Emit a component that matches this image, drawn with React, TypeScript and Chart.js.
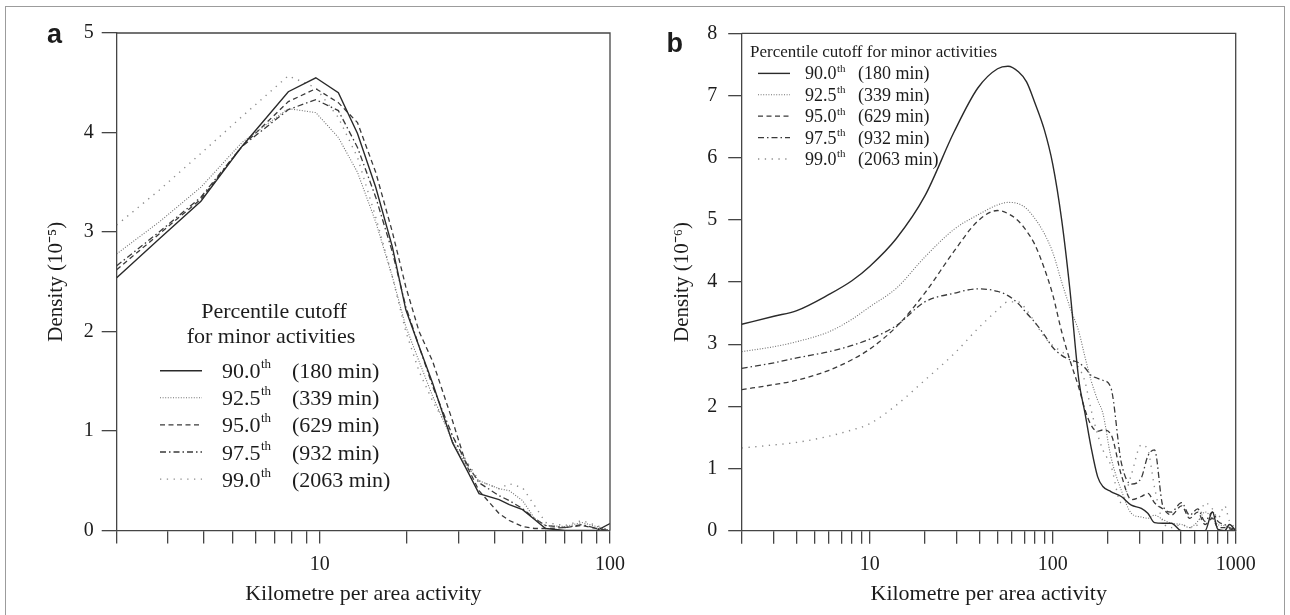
import React, { useEffect, useRef } from 'react';
import { Chart, registerables } from 'chart.js';

Chart.register(...registerables);

// ---------------- data ----------------
const SERIES_NAMES = ['90.0', '92.5', '95.0', '97.5', '99.0'];
const SERIES_NOTES = ['(180 min)', '(339 min)', '(629 min)', '(932 min)', '(2063 min)'];
const SUPERSCRIPT = 'th';
const LEGEND_TITLE_A = ['Percentile cutoff', 'for minor activities'];
const LEGEND_TITLE_B = ['Percentile cutoff for minor activities'];
const X_TITLE = 'Kilometre per area activity';
const Y_TITLE_A = 'Density (10⁻⁵)';
const Y_TITLE_B = 'Density (10⁻⁶)';
const LETTER_A = 'a';
const LETTER_B = 'b';

// panel a
const X_TICKS_A = [2, 3, 4, 5, 6, 7, 8, 9, 10, 20, 30, 40, 50, 60, 70, 80, 90, 100];
const X_LABELS_A = [10, 100];
const Y_MAX_A = 5;
const KM_A = [2, 2.8, 3.9, 5.4, 7.8, 9.7, 11.6, 13.5, 15.6, 17.8, 19.8, 22, 24.5, 28.7, 32, 35.4, 41.5, 45, 50, 55, 60, 70, 80, 90, 100];
const A_900 = [2.54, 2.93, 3.31, 3.86, 4.41, 4.55, 4.40, 3.99, 3.45, 2.85, 2.22, 1.85, 1.48, 0.88, 0.62, 0.37, 0.31, 0.26, 0.21, 0.11, 0.02, 0, 0, 0, 0.07];
const A_925 = [2.78, 3.10, 3.45, 3.90, 4.24, 4.20, 3.95, 3.60, 3.10, 2.55, 2.05, 1.70, 1.35, 0.90, 0.65, 0.50, 0.42, 0.40, 0.30, 0.12, 0.05, 0.04, 0.08, 0.04, 0.0];
const A_950 = [2.62, 2.98, 3.33, 3.86, 4.31, 4.44, 4.30, 4.10, 3.60, 3.00, 2.45, 2.00, 1.70, 1.10, 0.66, 0.40, 0.17, 0.10, 0.04, 0.02, 0.02, 0.03, 0.05, 0.02, 0.0];
const A_975 = [2.66, 3.00, 3.35, 3.86, 4.23, 4.33, 4.22, 3.85, 3.35, 2.80, 2.25, 1.85, 1.45, 0.95, 0.68, 0.48, 0.35, 0.30, 0.22, 0.12, 0.05, 0.03, 0.06, 0.02, 0.0];
const A_990 = [3.07, 3.42, 3.79, 4.16, 4.57, 4.45, 4.15, 3.75, 3.15, 2.55, 2.00, 1.60, 1.30, 0.95, 0.70, 0.50, 0.42, 0.47, 0.43, 0.25, 0.08, 0.05, 0.10, 0.05, 0.0];

// panel b
const X_TICKS_B = [2, 3, 4, 5, 6, 7, 8, 9, 10, 20, 30, 40, 50, 60, 70, 80, 90, 100, 200, 300, 400, 500, 600, 700, 800, 900, 1000];
const X_LABELS_B = [10, 100, 1000];
const Y_MAX_B = 8;
const KM_B = [2, 3, 4, 6, 8, 10, 14, 20, 29, 39, 50, 57, 65, 72, 80, 90, 100, 112, 124, 139, 150, 162, 176, 188, 208, 237, 269, 305, 331, 360, 400, 445, 506, 560, 620, 680, 746, 800, 870, 925, 1000];
const B_900 = [3.32, 3.45, 3.54, 3.80, 4.02, 4.25, 4.70, 5.38, 6.42, 7.12, 7.43, 7.47, 7.38, 7.22, 6.88, 6.45, 5.90, 5.00, 3.90, 2.42, 1.90, 1.35, 0.87, 0.71, 0.63, 0.55, 0.41, 0.36, 0.28, 0.13, 0.12, 0.12, 0.0, 0.0, 0.0, 0.0, 0.30, 0.02, 0.0, 0.10, 0.0];
const B_925 = [2.88, 2.96, 3.04, 3.20, 3.40, 3.60, 3.90, 4.40, 4.85, 5.08, 5.24, 5.28, 5.26, 5.18, 5.02, 4.78, 4.48, 4.00, 3.60, 3.20, 2.80, 2.42, 2.10, 1.89, 1.19, 0.65, 0.28, 0.22, 0.20, 0.25, 0.18, 0.12, 0.10, 0.05, 0.15, 0.30, 0.20, 0.10, 0.08, 0.05, 0.0];
const B_950 = [2.27, 2.35, 2.42, 2.58, 2.75, 2.92, 3.28, 3.82, 4.50, 4.98, 5.15, 5.10, 4.98, 4.82, 4.60, 4.22, 3.80, 3.20, 2.75, 2.30, 1.95, 1.70, 1.60, 1.62, 1.55, 0.90, 0.50, 0.55, 0.60, 0.45, 0.35, 0.25, 0.40, 0.20, 0.30, 0.10, 0.20, 0.05, 0.05, 0.03, 0.0];
const B_975 = [2.61, 2.70, 2.78, 2.88, 2.98, 3.08, 3.30, 3.68, 3.82, 3.89, 3.85, 3.78, 3.65, 3.50, 3.35, 3.15, 2.95, 2.82, 2.75, 2.70, 2.62, 2.50, 2.45, 2.42, 2.30, 1.10, 0.75, 0.85, 1.20, 1.30, 0.40, 0.30, 0.45, 0.25, 0.35, 0.15, 0.30, 0.15, 0.10, 0.05, 0.02];
const B_990 = [1.33, 1.38, 1.42, 1.52, 1.62, 1.72, 2.02, 2.42, 2.85, 3.25, 3.55, 3.68, 3.68, 3.55, 3.35, 3.12, 2.98, 2.88, 2.78, 2.62, 2.40, 1.95, 1.55, 1.30, 1.05, 0.45, 0.90, 1.38, 1.30, 0.70, 0.15, 0.05, 0.10, 0.05, 0.10, 0.45, 0.35, 0.20, 0.40, 0.15, 0.05];

// ---------------- styles ----------------
const SERIF = '"Liberation Serif", "Times New Roman", serif';
const SANS = '"Liberation Sans", Arial, sans-serif';
const TEXT = '#1c1c1c';
const AXIS = '#454545';
const H = 615;

const LINE_STYLES = [
  { color: '#2a2a2a', width: 1.4, dash: [] as number[] },
  { color: '#707070', width: 1.1, dash: [1, 1.6] },
  { color: '#3a3a3a', width: 1.3, dash: [5, 3.5] },
  { color: '#3a3a3a', width: 1.3, dash: [6, 3, 1.5, 3] },
  { color: '#8c8c8c', width: 1.4, dash: [1.3, 5.5] },
];

type LegendSpec = {
  titles: string[];
  titleAlign: CanvasTextAlign;
  titleX: number[];
  titleY: number[];
  titleSize: number;
  sample0: number;
  sample1: number;
  row0: number;
  rowStep: number;
  rowSize: number;
  numX: number;
  noteX: number;
  supSize: number;
  supRise: number;
  baseShift: number;
};

type PanelSpec = {
  xs: number[];
  ys: number[][];
  xMin: number;
  xMax: number;
  xTicks: number[];
  xLabels: number[];
  yMax: number;
  yTitle: string;
  letter: string;
  letterX: number;
  letterY: number;
  canvasLeft: number;
  canvasWidth: number;
  plot: { left: number; right: number; top: number; bottom: number };
  yTickLen: number;
  yTickPad: number;
  yTitlePad: number;
  smooth: boolean;
  legend: LegendSpec;
};

const PANEL_A: PanelSpec = {
  xs: KM_A,
  ys: [A_900, A_925, A_950, A_975, A_990],
  xMin: 2,
  xMax: 100,
  xTicks: X_TICKS_A,
  xLabels: X_LABELS_A,
  yMax: Y_MAX_A,
  yTitle: Y_TITLE_A,
  letter: LETTER_A,
  letterX: 47,
  letterY: 42.7,
  canvasLeft: 0,
  canvasWidth: 640,
  plot: { left: 116.7, right: 610, top: 33, bottom: 530.5 },
  yTickLen: 15,
  yTickPad: 8,
  yTitlePad: 44,
  smooth: false,
  legend: {
    titles: LEGEND_TITLE_A,
    titleAlign: 'center',
    titleX: [274, 271],
    titleY: [318, 343],
    titleSize: 22,
    sample0: 160,
    sample1: 202,
    row0: 370.7,
    rowStep: 27.1,
    rowSize: 22,
    numX: 222,
    noteX: 292,
    supSize: 13,
    supRise: 10,
    baseShift: 7.5,
  },
};

const PANEL_B: PanelSpec = {
  xs: KM_B,
  ys: [B_900, B_925, B_950, B_975, B_990],
  xMin: 2,
  xMax: 1000,
  xTicks: X_TICKS_B,
  xLabels: X_LABELS_B,
  yMax: Y_MAX_B,
  yTitle: Y_TITLE_B,
  letter: LETTER_B,
  letterX: 26.5,
  letterY: 51.7,
  canvasLeft: 640,
  canvasWidth: 650,
  plot: { left: 101.7, right: 595.7, top: 33.3, bottom: 530.7 },
  yTickLen: 13.5,
  yTickPad: 11,
  yTitlePad: 30,
  smooth: true,
  legend: {
    titles: LEGEND_TITLE_B,
    titleAlign: 'left',
    titleX: [110],
    titleY: [56.7],
    titleSize: 17,
    sample0: 118,
    sample1: 150,
    row0: 73.4,
    rowStep: 21.4,
    rowSize: 18,
    numX: 165,
    noteX: 218,
    supSize: 11,
    supRise: 7.6,
    baseShift: 6,
  },
};

function serif(size: number) {
  return `${size}px ${SERIF}`;
}

function drawLegend(ctx: CanvasRenderingContext2D, L: LegendSpec) {
  ctx.save();
  ctx.fillStyle = TEXT;
  ctx.textBaseline = 'alphabetic';
  ctx.font = serif(L.titleSize);
  ctx.textAlign = L.titleAlign;
  L.titles.forEach((t, i) => ctx.fillText(t, L.titleX[i], L.titleY[i]));
  ctx.textAlign = 'left';
  SERIES_NAMES.forEach((name, i) => {
    const cy = L.row0 + i * L.rowStep;
    const st = LINE_STYLES[i];
    ctx.beginPath();
    ctx.setLineDash(st.dash);
    ctx.strokeStyle = st.color;
    ctx.lineWidth = st.width;
    ctx.moveTo(L.sample0, cy);
    ctx.lineTo(L.sample1, cy);
    ctx.stroke();
    ctx.setLineDash([]);
    const base = cy + L.baseShift;
    ctx.font = serif(L.rowSize);
    ctx.fillText(name, L.numX, base);
    const w = ctx.measureText(name).width;
    ctx.font = serif(L.supSize);
    ctx.fillText(SUPERSCRIPT, L.numX + w + 0.5, base - L.supRise);
    ctx.font = serif(L.rowSize);
    ctx.fillText(SERIES_NOTES[i], L.noteX, base);
  });
  ctx.restore();
}

function makeChart(canvas: HTMLCanvasElement, p: PanelSpec) {
  const overlay = {
    id: 'overlay',
    afterDraw(chart: any) {
      const { ctx, chartArea } = chart;
      const { left, right, top, bottom } = chartArea;
      ctx.save();
      ctx.strokeStyle = AXIS;
      ctx.lineWidth = 1.3;
      ctx.setLineDash([]);
      ctx.beginPath();
      ctx.moveTo(left, top);
      ctx.lineTo(right, top);
      ctx.lineTo(right, bottom);
      ctx.stroke();
      ctx.fillStyle = TEXT;
      ctx.font = `bold 27px ${SANS}`;
      ctx.textAlign = 'left';
      ctx.textBaseline = 'alphabetic';
      ctx.fillText(p.letter, p.letterX, p.letterY);
      ctx.restore();
      drawLegend(ctx, p.legend);
    },
  };

  return new Chart(canvas, {
    type: 'line',
    data: {
      datasets: p.ys.map((ys, i) => ({
        label: SERIES_NAMES[i],
        data: p.xs.map((x, j) => ({ x, y: ys[j] })),
        borderColor: LINE_STYLES[i].color,
        borderWidth: LINE_STYLES[i].width,
        borderDash: LINE_STYLES[i].dash,
        borderCapStyle: 'butt',
        pointRadius: 0,
        fill: false,
        tension: p.smooth ? 0.4 : 0,
        cubicInterpolationMode: p.smooth ? 'monotone' : 'default',
      })),
    },
    options: {
      responsive: false,
      animation: false,
      devicePixelRatio: 1,
      events: [],
      layout: {
        padding: { left: 0, top: p.plot.top, right: p.canvasWidth - p.plot.right, bottom: 0 },
      },
      plugins: { legend: { display: false }, tooltip: { enabled: false }, title: { display: false } },
      scales: {
        x: {
          type: 'logarithmic',
          position: 'bottom',
          min: p.xMin,
          max: p.xMax,
          afterFit: (s: any) => {
            s.height = H - p.plot.bottom;
          },
          afterBuildTicks: (s: any) => {
            s.ticks = p.xTicks.map((v) => ({ value: v }));
          },
          ticks: {
            autoSkip: false,
            maxRotation: 0,
            minRotation: 0,
            padding: 9,
            color: TEXT,
            font: { family: SERIF, size: 20 },
            callback: (v: any) => (p.xLabels.includes(Number(v)) ? String(v) : ''),
          },
          grid: { drawOnChartArea: false, tickLength: 13, color: AXIS, lineWidth: 1.3 },
          border: { display: true, color: AXIS, width: 1.3 },
          title: {
            display: true,
            text: X_TITLE,
            color: TEXT,
            font: { family: SERIF, size: 22 },
            padding: { top: 0, bottom: 8 },
          },
        },
        y: {
          type: 'linear',
          position: 'left',
          min: 0,
          max: p.yMax,
          afterFit: (s: any) => {
            s.width = p.plot.left;
          },
          ticks: {
            stepSize: 1,
            padding: p.yTickPad,
            color: TEXT,
            font: { family: SERIF, size: 20 },
          },
          grid: { drawOnChartArea: false, tickLength: p.yTickLen, color: AXIS, lineWidth: 1.3 },
          border: { display: true, color: AXIS, width: 1.3 },
          title: {
            display: true,
            text: p.yTitle,
            color: TEXT,
            font: { family: SERIF, size: 21 },
            padding: { top: p.yTitlePad, bottom: 0 },
          },
        },
      },
    } as any,
    plugins: [overlay],
  });
}

function PanelCanvas({ panel }: { panel: PanelSpec }) {
  const ref = useRef<HTMLCanvasElement>(null);
  useEffect(() => {
    if (!ref.current) return;
    const chart = makeChart(ref.current, panel);
    return () => chart.destroy();
  }, [panel]);
  return (
    <canvas
      ref={ref}
      width={panel.canvasWidth}
      height={H}
      style={{ position: 'absolute', left: panel.canvasLeft, top: 0, width: panel.canvasWidth, height: H }}
    />
  );
}

export default function App() {
  return (
    <div
      style={{
        position: 'fixed',
        left: 0,
        top: 0,
        width: 1290,
        height: 615,
        background: '#ffffff',
        overflow: 'hidden',
      }}
    >
      <div
        style={{
          position: 'absolute',
          left: 5,
          top: 6,
          width: 1280,
          height: 700,
          border: '1px solid #9c9c9c',
          boxSizing: 'border-box',
        }}
      />
      <PanelCanvas panel={PANEL_A} />
      <PanelCanvas panel={PANEL_B} />
    </div>
  );
}
